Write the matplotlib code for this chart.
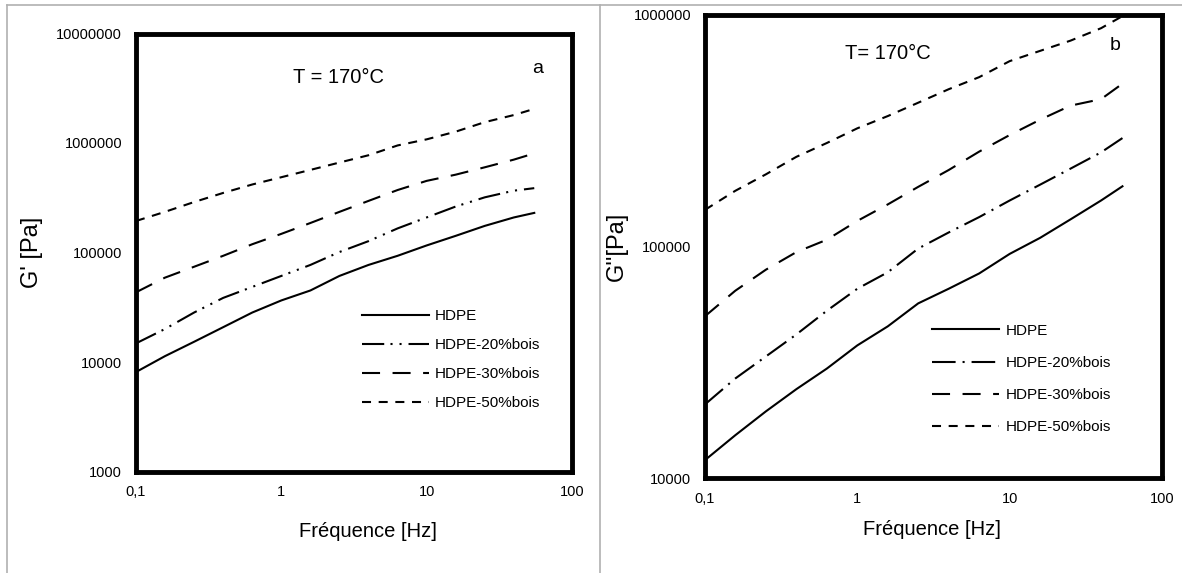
import numpy as np
import matplotlib
matplotlib.use('Agg')
import matplotlib.pyplot as plt
from matplotlib.lines import Line2D
from matplotlib.ticker import FixedLocator, FixedFormatter, NullLocator

plt.rcParams['font.family'] = ['Liberation Sans', 'DejaVu Sans']
plt.rcParams['lines.scale_dashes'] = False

# frequencies (Hz) where the curves were read
freq = [0.1, 0.158, 0.251, 0.398, 0.631, 1.0, 1.585, 2.51, 3.98, 6.31, 10.0, 15.85, 25.1, 39.8, 55.0]

# G' (Pa), panel a
gp_hdpe = [8100, 11300, 15300, 20800, 28300, 36500, 45000, 61100, 77000, 93300, 116000, 142000, 175000, 209000, 230000]
gp_20 = [14800, 20000, 28300, 38500, 48500, 61100, 77000, 101000, 127000, 166000, 209000, 263000, 319000, 367000, 387000]
gp_30 = [43300, 58900, 74100, 93300, 119000, 148000, 186000, 235000, 296000, 372000, 451000, 514000, 600000, 705000, 804000]
gp_50 = [194000, 235000, 289000, 350000, 418000, 487000, 568000, 663000, 773000, 950000, 1080000, 1270000, 1550000, 1800000, 2050000]

# G'' (Pa), panel b
gs_hdpe = [11950, 15300, 19400, 24200, 29700, 37400, 45200, 56800, 65700, 76500, 92900, 109000, 131000, 158000, 182000]
gs_20 = [20800, 26900, 33500, 41700, 52800, 65700, 77400, 98000, 115000, 134000, 158000, 185000, 217000, 255000, 294000]
gs_30 = [50000, 64400, 79400, 94600, 107000, 129000, 152000, 181000, 214000, 257000, 303000, 353000, 406000, 433000, 505000]
gs_50 = [144000, 174000, 205000, 244000, 280000, 324000, 366000, 418000, 478000, 539000, 632000, 700000, 775000, 877000, 989000]

labels = ['HDPE', 'HDPE-20%bois', 'HDPE-30%bois', 'HDPE-50%bois']
x_ticks = [0.1, 1, 10, 100]
x_ticklabels = ['0,1', '1', '10', '100']

styles_a = ['-', (0, (16, 4.5, 1.5, 5, 1.5, 5)), (0, (13, 9)), (0, (6.5, 5.5))]
styles_b = ['-', (0, (17, 5, 1.5, 5)), (0, (13, 9)), (0, (6.5, 5.5))]

W, H = 1182, 573
fig = plt.figure(figsize=(W / 100, H / 100), dpi=100)

# grey screenshot frame
fig.add_artist(Line2D([7 / W, 7 / W], [0, 1 - 5 / H], color='#b0b0b0', lw=1.2))
fig.add_artist(Line2D([7 / W, 1], [1 - 5 / H, 1 - 5 / H], color='#b0b0b0', lw=1.2))
fig.add_artist(Line2D([600 / W, 600 / W], [0, 1 - 5 / H], color='#b0b0b0', lw=1.2))


def panel(rect, series, styles, yticks, ylabel, ylab_x, xlab_xy, tlabel, txy, letter, lxy, leg_anchor, spacing):
    ax = fig.add_axes(rect)
    for vals, ls, lab in zip(series, styles, labels):
        ax.plot(freq, vals, color='black', lw=1.5, linestyle=ls, label=lab)
    ax.set_xscale('log')
    ax.set_yscale('log')
    ax.set_xlim(0.1, 100)
    ax.set_ylim(yticks[0], yticks[-1])
    ax.xaxis.set_major_locator(FixedLocator(x_ticks))
    ax.xaxis.set_major_formatter(FixedFormatter(x_ticklabels))
    ax.yaxis.set_major_locator(FixedLocator(yticks))
    ax.yaxis.set_major_formatter(FixedFormatter([str(v) for v in yticks]))
    ax.xaxis.set_minor_locator(NullLocator())
    ax.yaxis.set_minor_locator(NullLocator())
    ax.tick_params(length=0, labelsize=10.5, pad=10)
    for s in ax.spines.values():
        s.set_linewidth(3.5)
    ax.set_ylabel(ylabel, fontsize=17)
    ax.yaxis.set_label_coords(ylab_x, 0.5)
    ax.set_xlabel('Fréquence [Hz]', fontsize=14.5)
    ax.xaxis.set_label_coords(*xlab_xy)
    ax.text(txy[0], txy[1], tlabel, transform=ax.transAxes, fontsize=14.5, ha='center', va='center')
    ax.text(lxy[0], lxy[1], letter, transform=ax.transAxes, fontsize=14, ha='center', va='center')
    ax.legend(loc='upper left', bbox_to_anchor=leg_anchor, frameon=False, fontsize=11,
              handlelength=4.4, handletextpad=0.4, labelspacing=spacing, borderpad=0, borderaxespad=0)
    return ax


panel([136 / W, (H - 471.5) / H, 436 / W, 438 / H],
      [gp_hdpe, gp_20, gp_30, gp_50], styles_a,
      [1000, 10000, 100000, 1000000, 10000000], "G' [Pa]", -0.213, (0.532, -0.116),
      'T = 170°C', (0.465, 0.9), 'a', (0.922, 0.921), (0.518, 0.371), 0.98)

panel([705 / W, (H - 478) / H, 457 / W, 463 / H],
      [gs_hdpe, gs_20, gs_30, gs_50], styles_b,
      [10000, 100000, 1000000], "G''[Pa]", -0.168, (0.497, -0.09),
      'T= 170°C', (0.40, 0.916), 'b', (0.897, 0.935), (0.497, 0.333), 1.19)

fig.savefig('out.png', dpi=100)
